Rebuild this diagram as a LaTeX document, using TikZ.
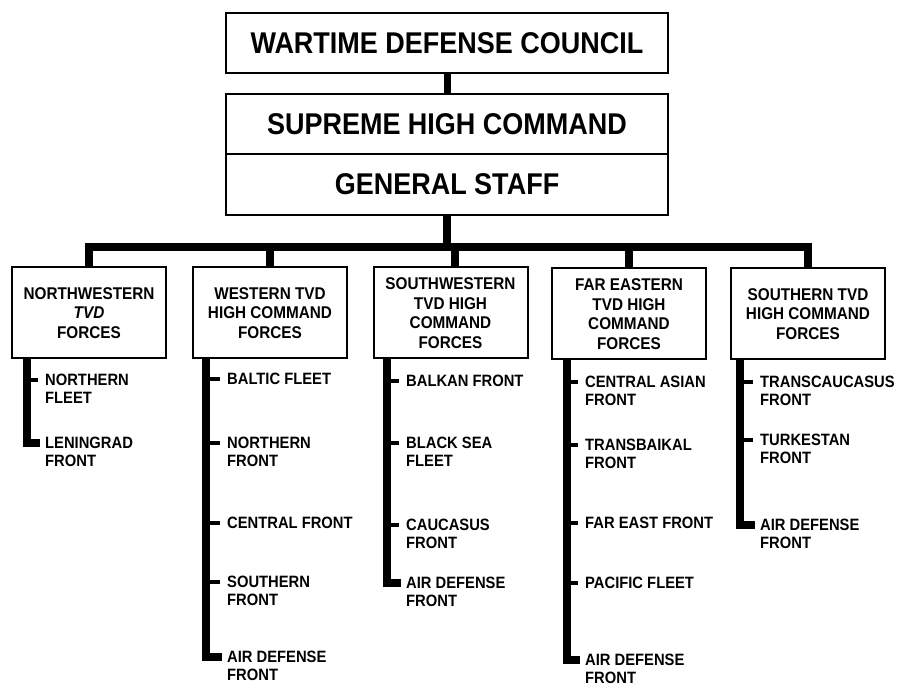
\documentclass[tikz,border=0pt]{standalone}
\usepackage{fontspec}
\setmainfont{Liberation Sans}[FakeStretch=0.9]
\newcommand\mybigfont{\bfseries\fontsize{30}{34}\selectfont}
\newcommand\myboxfont{\bfseries\fontsize{17}{19.5}\selectfont}
\newcommand\mylabfont{\bfseries\fontsize{16.4}{18}\selectfont}
\begin{document}
\begin{tikzpicture}[x=1pt,y=-1pt,
  topbox/.style={draw, line width=2pt, inner sep=0pt, align=center, font=\mybigfont, minimum width=442pt},
  tvdbox/.style={draw, line width=2pt, inner sep=0pt, align=center, font=\myboxfont, minimum width=154pt, minimum height=91pt},
  lab/.style={anchor=north west, inner sep=0pt, align=left, font=\mylabfont},
  bus/.style={line width=8pt, line join=miter},
  bar/.style={line width=8pt, line join=miter, shorten >=5pt},
  stub/.style={line width=4pt, shorten >=7pt}]
\useasboundingbox (0,0) rectangle (898,687);

% top boxes
\node[topbox, minimum height=60pt] (council) at (447,43) {WARTIME DEFENSE COUNCIL};
\node[topbox, minimum height=60pt] (supreme) at (447,124) {SUPREME HIGH COMMAND};
\node[topbox, minimum height=61pt] (gs) at (447,184.5) {GENERAL STAFF};

% TVD boxes
\node[tvdbox] (nw) at (89,313) {NORTHWESTERN\\\itshape TVD\\FORCES};
\node[tvdbox] (w) at (270,313) {WESTERN TVD\\HIGH COMMAND\\FORCES};
\node[tvdbox] (sw) at (450.5,313) {SOUTHWESTERN\\TVD HIGH\\COMMAND\\FORCES};
\node[tvdbox] (fe) at (629,314) {FAR EASTERN\\TVD HIGH\\COMMAND\\FORCES};
\node[tvdbox] (s) at (808,314) {SOUTHERN TVD\\HIGH COMMAND\\FORCES};

% connectors at top
\coordinate (busc) at (447,247);
\draw[line width=7pt] (council.south) -- (supreme.north);
\draw[bus] (gs.south) -- (gs.south |- busc);
\draw[bus] (nw.north) -- (nw.north |- busc) -- (s.north |- busc) -- (s.north);
\draw[bus] (w.north |- busc) -- (w.north);
\draw[bus] ([xshift=4pt]sw.north |- busc) -- ([xshift=4pt]sw.north);
\draw[bus] (fe.north |- busc) -- (fe.north);

% Northwestern column
\coordinate (nw1) at (27,380);
\coordinate (nw2) at (27,443);
\node[lab] (lnw1) at (45,374) {NORTHERN\\FLEET};
\node[lab] (lnw2) at (45,437) {LENINGRAD\\FRONT};
\draw[bar] (nw.south -| nw1) -- (nw2) -- (nw2 -| lnw2.west);
\draw[stub] (nw1) -- (nw1 -| lnw1.west);

% Western column
\coordinate (w1) at (206,379);
\coordinate (w2) at (206,443);
\coordinate (w3) at (206,523);
\coordinate (w4) at (206,582);
\coordinate (w5) at (206,657);
\node[lab] (lw1) at (227,373) {BALTIC FLEET};
\node[lab] (lw2) at (227,437) {NORTHERN\\FRONT};
\node[lab] (lw3) at (227,517) {CENTRAL FRONT};
\node[lab] (lw4) at (227,576) {SOUTHERN\\FRONT};
\node[lab] (lw5) at (227,651) {AIR DEFENSE\\FRONT};
\draw[bar] (w.south -| w1) -- (w5) -- (w5 -| lw5.west);
\draw[stub] (w1) -- (w1 -| lw1.west);
\draw[stub] (w2) -- (w2 -| lw2.west);
\draw[stub] (w3) -- (w3 -| lw3.west);
\draw[stub] (w4) -- (w4 -| lw4.west);

% Southwestern column
\coordinate (sw1) at (387,381);
\coordinate (sw2) at (387,443);
\coordinate (sw3) at (387,525);
\coordinate (sw4) at (387,583);
\node[lab] (lsw1) at (406,375) {BALKAN FRONT};
\node[lab] (lsw2) at (406,437) {BLACK SEA\\FLEET};
\node[lab] (lsw3) at (406,519) {CAUCASUS\\FRONT};
\node[lab] (lsw4) at (406,577) {AIR DEFENSE\\FRONT};
\draw[bar] (sw.south -| sw1) -- (sw4) -- (sw4 -| lsw4.west);
\draw[stub] (sw1) -- (sw1 -| lsw1.west);
\draw[stub] (sw2) -- (sw2 -| lsw2.west);
\draw[stub] (sw3) -- (sw3 -| lsw3.west);

% Far Eastern column
\coordinate (fe1) at (567,382);
\coordinate (fe2) at (567,445);
\coordinate (fe3) at (567,523);
\coordinate (fe4) at (567,583);
\coordinate (fe5) at (567,660);
\node[lab] (lfe1) at (585,376) {CENTRAL ASIAN\\FRONT};
\node[lab] (lfe2) at (585,439) {TRANSBAIKAL\\FRONT};
\node[lab] (lfe3) at (585,517) {FAR EAST FRONT};
\node[lab] (lfe4) at (585,577) {PACIFIC FLEET};
\node[lab] (lfe5) at (585,654) {AIR DEFENSE\\FRONT};
\draw[bar] (fe.south -| fe1) -- (fe5) -- (fe5 -| lfe5.west);
\draw[stub] (fe1) -- (fe1 -| lfe1.west);
\draw[stub] (fe2) -- (fe2 -| lfe2.west);
\draw[stub] (fe3) -- (fe3 -| lfe3.west);
\draw[stub] (fe4) -- (fe4 -| lfe4.west);

% Southern column
\coordinate (s1) at (740,382);
\coordinate (s2) at (740,440);
\coordinate (s3) at (740,525);
\node[lab] (ls1) at (760,376) {TRANSCAUCASUS\\FRONT};
\node[lab] (ls2) at (760,434) {TURKESTAN\\FRONT};
\node[lab] (ls3) at (760,519) {AIR DEFENSE\\FRONT};
\draw[bar] (s.south -| s1) -- (s3) -- (s3 -| ls3.west);
\draw[stub] (s1) -- (s1 -| ls1.west);
\draw[stub] (s2) -- (s2 -| ls2.west);
\end{tikzpicture}
\end{document}
